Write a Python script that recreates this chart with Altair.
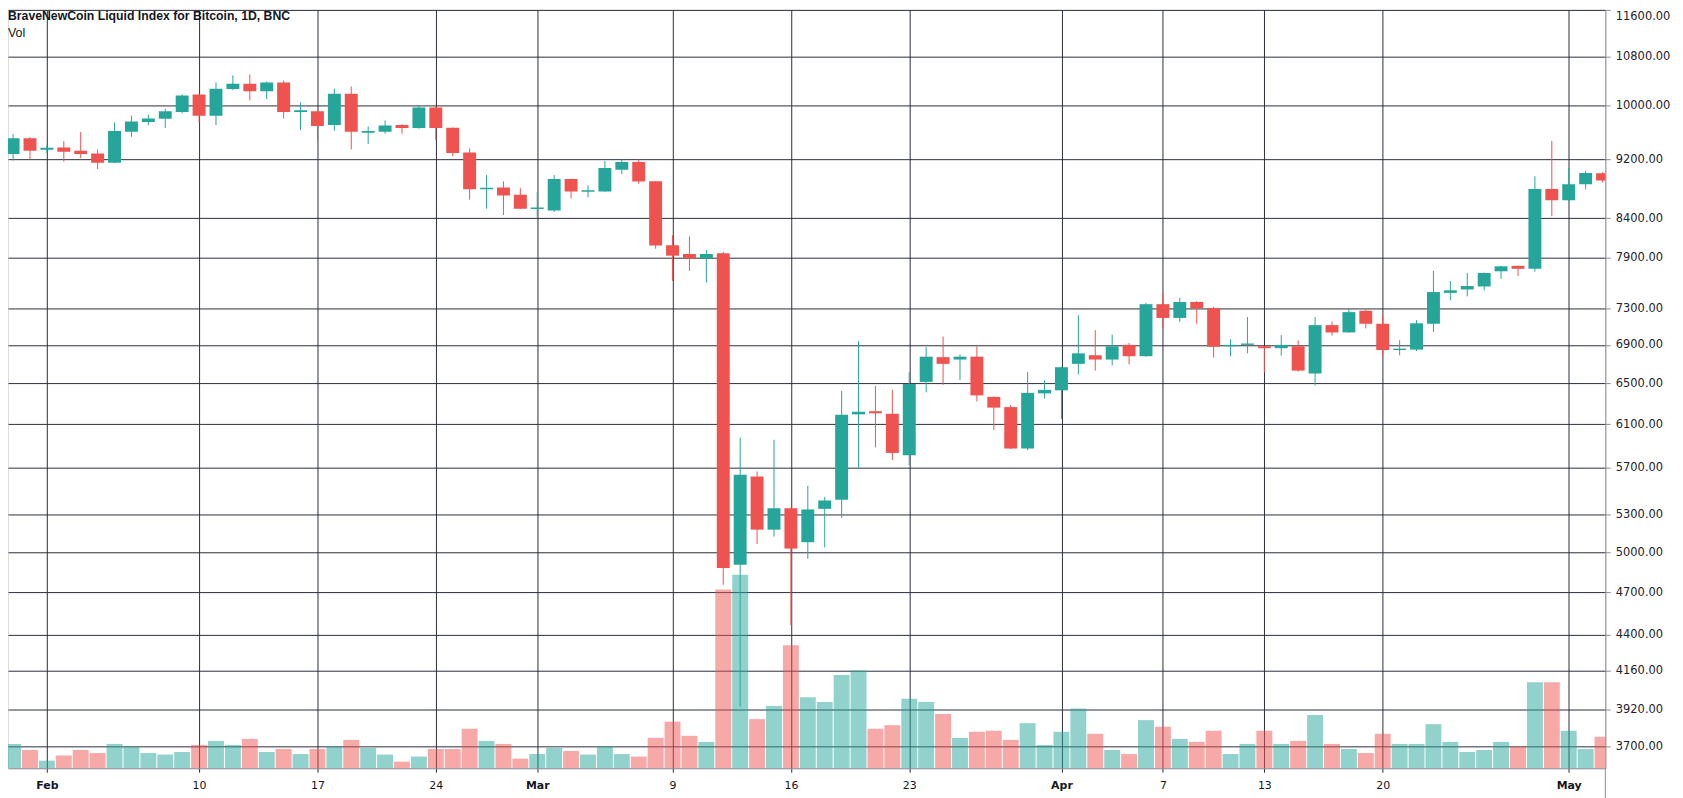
import altair as alt
import numpy as np
import pandas as pd

# ---- data (BNC BLX, daily) ----
dates = pd.date_range("2020-01-30", "2020-05-03", freq="D")

open_ = [9280, 9510, 9340, 9375, 9325, 9285, 9155, 9605, 9750, 9800,
         9905, 10175, 9845, 10265, 10350, 10230, 10370, 9905, 9915, 9705,
         10190, 9590, 9605, 9705, 9660, 9975, 9665, 9300, 8785, 8810,
         8710, 8520, 8500, 8925, 8750, 8755, 9055, 9165, 8895, 8055,
         7945, 7890, 7955, 4905, 5625, 5180, 5355, 5080, 5350, 5425,
         6195, 6225, 6200, 5815, 6515, 6770, 6745, 6775, 6365, 6265,
         5875, 6400, 6430, 6700, 6790, 6745, 6900, 6780, 7350, 7195,
         7375, 7305, 6885, 6900, 6885, 6865, 6885, 6600, 7115, 7035,
         7275, 7130, 6845, 6850, 7130, 7480, 7520, 7555, 7735, 7800,
         7765, 8790, 8635, 8855, 9005]
high = [9570, 9525, 9410, 9465, 9600, 9345, 9745, 9850, 9865, 9955,
        10175, 10180, 10370, 10485, 10500, 10385, 10400, 10055, 9920, 10270,
        10305, 9685, 9775, 9720, 10000, 10015, 9670, 9360, 8980, 8895,
        8800, 8750, 8980, 8930, 8840, 9180, 9200, 9200, 8900, 8180,
        8165, 7995, 7970, 5975, 5670, 5955, 5360, 5545, 5450, 6425,
        6940, 6475, 6435, 6615, 6875, 6990, 6800, 6885, 6370, 6285,
        6615, 6530, 6670, 7225, 7060, 7010, 6920, 7365, 7470, 7425,
        7385, 7320, 6960, 7205, 6890, 7005, 6950, 7205, 7155, 7300,
        7290, 7225, 6950, 7170, 7740, 7620, 7715, 7720, 7800, 7805,
        8965, 9470, 9080, 9040, 9020]
low = [9185, 9200, 9295, 9170, 9220, 9065, 9150, 9530, 9705, 9660,
       9885, 9750, 9705, 10245, 10085, 10105, 9805, 9630, 9470, 9620,
       9345, 9425, 9575, 9575, 9650, 9485, 9250, 8645, 8525, 8440,
       8520, 8415, 8480, 8660, 8675, 8750, 8995, 8860, 8010, 7620,
       7740, 7600, 4755, 3935, 5065, 5125, 4465, 4950, 5040, 5275,
       5690, 5885, 5770, 5725, 6410, 6485, 6535, 6320, 6045, 5870,
       5860, 6350, 6150, 6590, 6630, 6685, 6695, 6775, 7080, 7150,
       7130, 6765, 6780, 6810, 6610, 6785, 6620, 6480, 7000, 7030,
       7080, 6775, 6790, 6835, 7040, 7395, 7440, 7510, 7645, 7680,
       7730, 8425, 8630, 8785, 8880]
close = [9510, 9325, 9370, 9310, 9280, 9155, 9615, 9760, 9805, 9915,
         10160, 9845, 10270, 10350, 10230, 10370, 9905, 9930, 9690, 10190,
         9605, 9615, 9700, 9660, 9975, 9660, 9295, 8785, 8805, 8700,
         8525, 8540, 8925, 8755, 8770, 9080, 9165, 8890, 8050, 7925,
         7890, 7945, 4880, 5640, 5180, 5355, 5030, 5345, 5420, 6190,
         6220, 6205, 5835, 6495, 6775, 6700, 6775, 6380, 6260, 5875,
         6405, 6435, 6665, 6810, 6745, 6885, 6780, 7350, 7195, 7375,
         7305, 6880, 6900, 6915, 6865, 6900, 6630, 7115, 7035, 7260,
         7130, 6845, 6860, 7135, 7490, 7510, 7560, 7715, 7795, 7765,
         8790, 8635, 8855, 9010, 8905]
volume = [48, 36, 15, 25, 36, 30, 48, 43, 30, 27,
          32, 46, 54, 46, 58, 32, 38, 28, 38, 43,
          56, 40, 27, 13, 23, 38, 38, 78, 54, 48,
          19, 28, 40, 34, 27, 43, 28, 23, 60, 92,
          64, 52, 353, 382, 97, 123, 243, 140, 131, 184,
          193, 78, 85, 137, 131, 107, 60, 72, 74, 56,
          89, 46, 72, 118, 68, 36, 28, 95, 82, 58,
          52, 74, 28, 48, 74, 48, 54, 105, 48, 38,
          30, 68, 48, 48, 87, 52, 32, 36, 52, 43,
          170, 170, 74, 38, 62]

tick_days = [0, 9, 16, 23, 29, 37, 44, 51, 60, 66, 72, 79, 90]
tick_labels = ["Feb", "10", "17", "24", "Mar", "9", "16", "23", "Apr", "7", "13", "20", "May"]
month_ticks = [0, 29, 60, 90]
price_ticks = [11600, 10800, 10000, 9200, 8400, 7900, 7300, 6900, 6500,
               6100, 5700, 5300, 5000, 4700, 4400, 4160, 3920, 3700]

title_text = "BraveNewCoin Liquid Index for Bitcoin, 1D, BNC"
vol_text = "Vol"

# ---- table ----
df = pd.DataFrame({
    "date": dates.strftime("%Y-%m-%d"),
    "open": open_, "high": high, "low": low, "close": close, "volume": volume,
})
df["day"] = (dates - pd.Timestamp("2020-02-01")).days
df["dir"] = np.where(np.array(close) >= np.array(open_), "up", "down")

UP, DOWN = "#26a69a", "#ef5350"
GRID = "#2a2e3d"
AXIS = "#8a8d96"
W, H = 1605, 762

label_expr = " : ".join(
    f"datum.value == {d} ? '{t}'" for d, t in zip(tick_days, tick_labels)
) + " : ''"
month_test = " || ".join(f"datum.value == {d}" for d in month_ticks)

xscale = alt.Scale(domain=[-2.006, 91.871], nice=False, zero=False)
xaxis = alt.Axis(
    values=tick_days, labelExpr=label_expr, title=None,
    grid=True, gridColor=GRID, gridWidth=1, gridOpacity=1,
    domainColor=AXIS, domainWidth=1, tickColor=GRID, tickSize=4, tickWidth=1,
    labelFont="DejaVu Sans", labelFontSize=11, labelColor="#131722",
    labelPadding=7, labelFlush=False, labelOverlap=False,
    labelFontWeight={"condition": {"test": month_test, "value": "bold"}, "value": "normal"},
)
x_enc = alt.X("day:Q", scale=xscale, axis=xaxis)

yscale = alt.Scale(type="log", domain=[3577, 11605], nice=False)
yaxis = alt.Axis(
    orient="right", values=price_ticks, format=".2f", title=None,
    grid=True, gridColor=GRID, gridWidth=1, gridOpacity=1,
    domainColor=AXIS, domainWidth=1, tickColor=AXIS, tickSize=5, tickWidth=1,
    labelFont="DejaVu Sans", labelFontSize=11.5, labelColor="#1e222d",
    labelPadding=5, labelFlush=1, labelOverlap=False,
)
color_enc = alt.Color("dir:N", scale=alt.Scale(domain=["up", "down"], range=[UP, DOWN]), legend=None)

base = alt.Chart(df)

vol = base.mark_bar(width=16, opacity=0.5, clip=True).encode(
    x=x_enc,
    y=alt.Y("volume:Q", scale=alt.Scale(domain=[0, 1497], nice=False, zero=True), axis=None),
    color=color_enc,
)

wick = base.mark_rule(strokeWidth=1, clip=True).encode(
    x=x_enc,
    y=alt.Y("low:Q", scale=yscale, axis=yaxis),
    y2="high:Q",
    color=color_enc,
)
body = base.mark_bar(width=13, clip=True).encode(
    x=x_enc,
    y=alt.Y("open:Q", scale=yscale, axis=yaxis),
    y2="close:Q",
    color=color_enc,
)

title_layer = alt.Chart(pd.DataFrame({"t": [title_text]})).mark_text(
    align="left", baseline="alphabetic", font="Liberation Sans Narrow, Liberation Sans, sans-serif",
    fontSize=12.3, fontWeight="bold", color="#131722",
).encode(x=alt.value(0), y=alt.value(10), text="t:N")

vol_layer_text = alt.Chart(pd.DataFrame({"t": [vol_text]})).mark_text(
    align="left", baseline="alphabetic", font="Liberation Sans Narrow, Liberation Sans, sans-serif",
    fontSize=12.5, color="#131722",
).encode(x=alt.value(0), y=alt.value(27), text="t:N")

edge_rule = alt.Chart(pd.DataFrame({"a": [0]})).mark_rule(color=AXIS, strokeWidth=1).encode(
    x=alt.value(W), y=alt.value(H), y2=alt.value(H + 30)
)

price = alt.layer(wick, body, title_layer, vol_layer_text, edge_rule)

chart = alt.layer(vol, price).resolve_scale(y="independent").properties(
    width=W, height=H,
    autosize=alt.AutoSizeParams(type="none"),
    padding={"left": 0, "top": 0, "right": 70, "bottom": 28},
).configure_view(strokeWidth=0).configure(background="white")

chart.save("out.html", embed_options={"renderer": "svg", "actions": False})
